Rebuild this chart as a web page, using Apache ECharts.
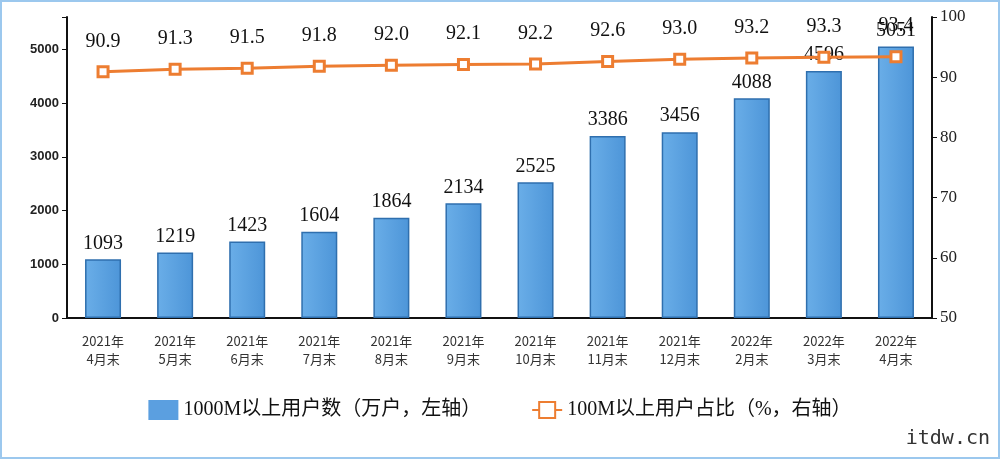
<!DOCTYPE html>
<html><head><meta charset="utf-8">
<script src="https://cdn.jsdelivr.net/npm/echarts@6/dist/echarts.min.js"></script>
<style>body{margin:0}#main{width:1000px;height:459px;box-sizing:border-box;border:2px solid #9cc8ee}</style>
</head><body><div id="main"></div>
<script>
var categories = ['2021年\n4月末','2021年\n5月末','2021年\n6月末','2021年\n7月末','2021年\n8月末','2021年\n9月末','2021年\n10月末','2021年\n11月末','2021年\n12月末','2022年\n2月末','2022年\n3月末','2022年\n4月末'];
var users1000M = [1093,1219,1423,1604,1864,2134,2525,3386,3456,4088,4596,5051];
var share100M = [90.9,91.3,91.5,91.8,92.0,92.1,92.2,92.6,93.0,93.2,93.3,93.4];
var serif = '"Liberation Serif","Noto Sans CJK SC",serif';
var chart = echarts.init(document.getElementById('main'));
chart.setOption({
  animation:false,
  grid:{left:65,right:66,top:15,bottom:139},
  legend:{bottom:32,itemGap:50,itemWidth:30,itemHeight:20,textStyle:{fontFamily:serif,fontSize:20,color:'#111'},
    data:[{name:'1000M以上用户数（万户，左轴）',icon:'rect',itemStyle:{borderWidth:0,color:'#5b9fe0'}},{name:'100M以上用户占比（%，右轴）'}]},
  graphic:[{type:'text',right:8,bottom:8,style:{text:'itdw.cn',font:'20px "DejaVu Sans Mono",monospace',fill:'#333'}}],
  xAxis:{type:'category',data:categories,axisLine:{lineStyle:{color:'#111',width:2}},
    axisTick:{length:6,lineStyle:{color:'#111'}},
    axisLabel:{color:'#333',fontSize:13,lineHeight:18,margin:14,fontFamily:'"Noto Sans CJK SC",sans-serif'}},
  yAxis:[
    {type:'value',min:0,max:5600,interval:1000,splitLine:{show:false},
     axisLine:{show:true,lineStyle:{color:'#111',width:2}},axisTick:{show:true,inside:false,lineStyle:{color:'#111'}},
     axisLabel:{fontWeight:'bold',color:'#222',fontSize:13,formatter:function(v){return v>5000?'':v;}}},
    {type:'value',min:50,max:100,interval:10,splitLine:{show:false},
     axisLine:{show:true,lineStyle:{color:'#111',width:2}},axisTick:{show:true,lineStyle:{color:'#111'}},
     axisLabel:{color:'#222',fontSize:17,fontFamily:serif}}
  ],
  series:[
    {name:'1000M以上用户数（万户，左轴）',type:'bar',data:users1000M,barWidth:36,
     itemStyle:{color:new echarts.graphic.LinearGradient(0,0,1,0,[{offset:0,color:'#6aaee8'},{offset:1,color:'#4d95d8'}]),borderColor:'#2f6fae',borderWidth:1.5},
     label:{show:true,position:'top',distance:6,fontFamily:serif,fontSize:20,color:'#111'}},
    {name:'100M以上用户占比（%，右轴）',type:'line',yAxisIndex:1,data:share100M,
     symbol:'rect',symbolSize:10,lineStyle:{color:'#ed7d31',width:3},
     itemStyle:{color:'#fff',borderColor:'#ed7d31',borderWidth:3},
     label:{show:true,position:'top',distance:14,fontFamily:serif,fontSize:20,color:'#111',formatter:function(p){return p.value.toFixed(1);}}}
  ]
});
</script></body></html>
